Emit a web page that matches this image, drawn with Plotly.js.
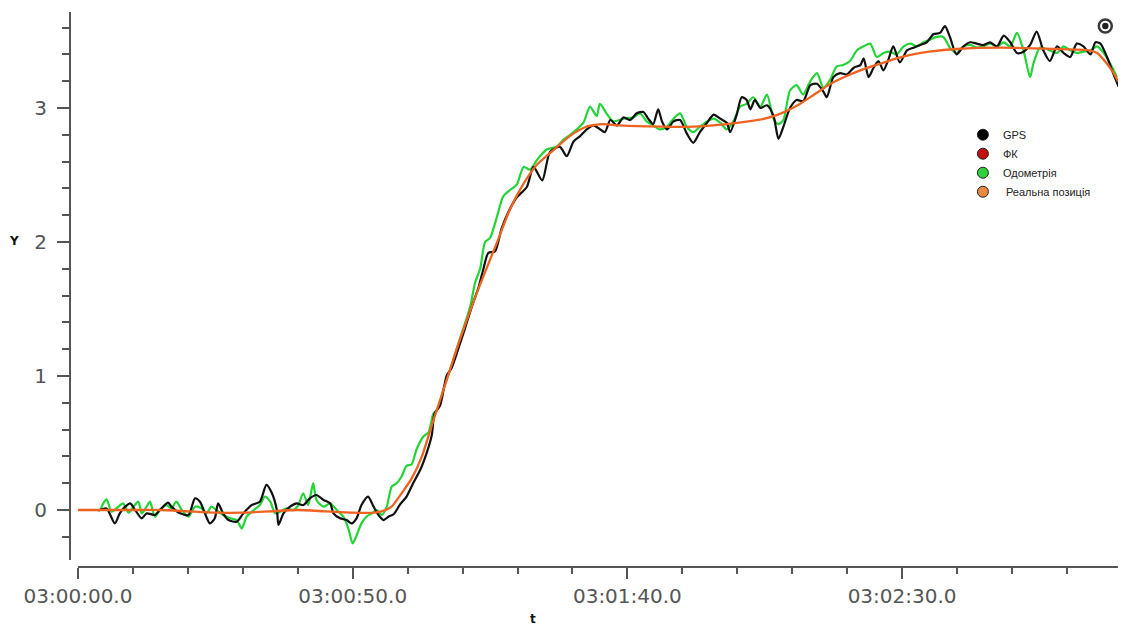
<!DOCTYPE html>
<html>
<head>
<meta charset="utf-8">
<script src="https://cdn.plot.ly/plotly-3.0.1.min.js"></script>
<style>html,body{margin:0;padding:0;background:#fff;}#chart{width:1121px;height:627px;}</style>
</head>
<body>
<div id="chart"></div>
<script>
// seconds after 03:00:00.0
const gpsT = [0,3.5,4.0,5.2,6.7,7.6,8.6,9.5,10.4,11.6,12.5,14.0,14.9,16.4,17.0,18.6,20.1,21.3,22.2,23.1,24.0,24.9,25.5,26.4,27.4,28.9,30.1,31.6,33.1,34.3,35.3,36.2,36.5,37.4,38.6,39.8,41.0,42.2,43.4,44.7,45.9,46.5,47.7,48.9,49.8,50.7,51.6,52.8,53.8,54.7,55.6,56.5,
  57.5,58.6,59.8,61.0,62.3,63.5,64.4,64.9,65.9,67.1,68.0,69.2,70.4,71.7,72.9,73.8,74.7,75.9,77.1,78.3,79.8,81.7,82.9,84.5,85.9,87.7,88.96,90.2,91.4,92.6,93.8,94.7,95.9,96.9,98.1,99.3,100.5,101.7,102.9,103.8,104.7,105.6,106.3,107.2,108.4,109.6,110.8,112.0,113.2,114.5,115.7,116.9,118.1,118.7,119.9,120.8,121.7,122.4,123.2,124.2,125.4,126.6,127.5,128.4,129.6,130.8,132.0,133.3,134.5,135.7,136.3,137.5,138.7,139.9,141.2,142.4,
  143.0,143.9,144.8,145.7,146.6,147.5,148.4,149.6,150.9,152.1,153.3,154.5,155.7,156.9,157.8,158.7,159.9,161.2,162.4,163.6,164.8,166.0,167.3,168.5,169.7,170.9,172.1,173.3,174.5,175.7,176.9,178.2,179.4,180.6,181.8,183.0,184.3,185.2,186.1,187.3,188.5,189.4];
const gpsY = [0,0,0,0.012,-0.10,-0.025,0.025,0.05,0,-0.062,-0.025,-0.037,0,0.055,0.025,-0.025,-0.037,0.087,0.062,-0.025,-0.10,-0.062,0.05,-0.025,-0.075,-0.087,-0.025,0.037,0.062,0.187,0.125,0,-0.112,-0.025,0.025,0.05,0.037,0.087,0.112,0.075,0.05,-0.025,-0.062,-0.075,-0.10,-0.062,0.037,0.10,0.025,-0.037,-0.075,-0.05,
  -0.03,0.04,0.10,0.20,0.30,0.43,0.56,0.72,0.78,1.00,1.06,1.20,1.35,1.52,1.66,1.80,1.92,1.93,2.10,2.22,2.33,2.41,2.56,2.46,2.67,2.71,2.64,2.75,2.79,2.84,2.87,2.85,2.82,2.91,2.87,2.93,2.91,2.96,2.97,2.92,2.88,2.99,2.90,2.84,2.90,2.91,2.81,2.74,2.82,2.89,2.95,2.92,2.89,2.82,2.95,3.08,3.06,2.99,3.06,3.00,3.02,2.94,2.77,2.86,3.00,3.06,3.05,3.17,3.18,3.12,3.08,3.23,3.26,3.25,3.30,3.32,
  3.37,3.23,3.30,3.35,3.28,3.36,3.46,3.34,3.43,3.45,3.47,3.49,3.55,3.56,3.61,3.53,3.40,3.46,3.49,3.48,3.47,3.49,3.46,3.54,3.49,3.41,3.42,3.47,3.57,3.43,3.35,3.46,3.41,3.38,3.48,3.46,3.40,3.49,3.48,3.38,3.25,3.16];

const odoT = [0,3.5,4.0,4.6,5.2,6.1,7.0,8.2,9.2,10.1,11.0,11.6,12.5,13.1,14.0,14.9,16.1,17.0,17.9,18.9,20.1,21.3,22.5,23.4,24.3,25.2,26.4,27.7,28.9,29.8,30.7,32.0,33.1,34.0,35.0,35.9,36.8,38.0,39.2,40.1,41.0,41.9,42.8,43.4,44.7,45.9,47.1,48.3,49.2,50.0,50.7,51.6,52.5,53.5,54.4,55.3,56.2,57.1,58.0,58.9,
  59.8,60.7,61.6,62.9,63.8,64.7,65.6,66.5,67.7,68.9,70.1,71.4,72.3,73.2,74.1,75.0,76.2,77.4,78.7,79.9,81.1,82.3,83.5,85.3,87.1,88.3,89.6,90.8,92.0,93.2,94.4,95.0,96.2,97.4,99.3,101.1,102.3,103.5,104.7,105.9,107.2,108.4,109.6,110.8,112.0,113.2,114.5,115.7,116.9,118.1,119.3,120.5,121.7,122.9,124.2,125.4,126.6,127.5,128.4,129.6,130.8,132.0,133.3,134.5,135.7,136.9,138.1,139.3,140.5,
  141.8,143.0,144.2,145.4,146.6,147.8,149.0,150.3,151.5,152.7,153.9,155.1,156.3,157.5,158.7,159.9,161.2,162.4,163.6,164.8,166.0,167.3,168.5,169.7,170.9,172.1,173.3,173.9,175.1,176.9,178.2,179.4,180.6,181.8,183.0,184.3,185.5,186.7,187.9,189.1];
const odoY = [0,0,0,0.05,0.08,-0.012,0.012,0.05,-0.02,0.025,0.062,-0.025,0.025,0.062,-0.05,0,0.037,0.012,0.062,0,-0.05,0.025,0.012,-0.025,0.025,0,-0.037,-0.062,-0.075,-0.137,-0.05,0,0.037,0.10,0.062,-0.025,-0.012,0.012,0,0.037,0.125,0.037,0.20,0.075,0.025,0.05,0,-0.05,-0.137,-0.25,-0.19,-0.10,-0.05,-0.025,0,-0.037,0.025,0.174,0.20,0.25,
  0.33,0.34,0.45,0.55,0.58,0.72,0.76,0.90,1.04,1.20,1.35,1.52,1.70,1.80,2.00,2.03,2.18,2.34,2.39,2.43,2.56,2.54,2.61,2.69,2.71,2.76,2.80,2.84,2.89,3.01,2.94,3.03,2.96,2.90,2.92,2.93,2.96,2.90,2.87,2.84,2.86,2.92,2.96,2.86,2.82,2.86,2.90,2.92,2.89,2.84,2.90,3.01,3.03,3.08,3.01,3.10,2.92,2.88,2.91,3.13,3.17,3.10,3.20,3.26,3.15,3.21,3.31,3.32,3.35,
  3.43,3.46,3.48,3.38,3.41,3.42,3.40,3.46,3.48,3.46,3.49,3.51,3.53,3.53,3.45,3.41,3.46,3.47,3.45,3.46,3.48,3.46,3.49,3.46,3.56,3.43,3.23,3.33,3.45,3.43,3.41,3.46,3.43,3.41,3.42,3.43,3.46,3.41,3.33,3.23];

const realT = [0,4,10,15,20,25,30,35,40,45,50,54,56,57.2,59,60.8,62.6,64.7,67.1,69.5,72.6,76.2,78.6,80.6,83.4,86.4,89.5,92.5,95.5,98.5,106,112,118,122,125,128,131,134,137,140,143,146,149,152,155,160,168,178,184,185.5,187.3,188.5,189.3];
const realY = [0,0,0,0,-0.01,-0.02,-0.02,-0.01,0,-0.01,-0.02,-0.02,0,0.03,0.13,0.24,0.40,0.67,0.97,1.27,1.62,1.99,2.24,2.40,2.57,2.68,2.79,2.86,2.88,2.87,2.86,2.86,2.88,2.9,2.92,2.96,3.02,3.10,3.18,3.24,3.29,3.33,3.37,3.40,3.42,3.44,3.45,3.44,3.43,3.41,3.33,3.26,3.2];

const seriesNames = ['GPS','ФК','Одометрія','\u00a0Реальна позиція'];
const legendColors = ['#000000','#c40f0f','#2fd13c','#ea8a3d'];
const xTickVals = [0,50,100,150];
const xTickText = ['03:00:00.0','03:00:50.0','03:01:40.0','03:02:30.0'];
const yTickVals = [0,1,2,3];

const axisColor = '#555555';
const traces = [
  {x: odoT, y: odoY, mode:'lines', line:{color:'#22d436', width:2.2, shape:'spline', smoothing:0.7}, showlegend:false, hoverinfo:'skip'},
  {x: gpsT, y: gpsY, mode:'lines', line:{color:'#111111', width:2.2, shape:'spline', smoothing:0.7}, showlegend:false, hoverinfo:'skip'},
  {x: realT, y: realY, mode:'lines', line:{color:'#f0621f', width:2.3, shape:'spline', smoothing:0.6}, showlegend:false, hoverinfo:'skip'}
];
seriesNames.forEach((n,i)=>{
  traces.push({x:[null], y:[null], name:n, mode:'markers', marker:{color:legendColors[i], size:11, line:{color:'#222', width:1}}, showlegend:true});
});

const px = v => (v-70)/1048;
const py = v => (567-v)/555;

const layout = {
  width:1121, height:627,
  margin:{l:70, r:3, t:12, b:60},
  paper_bgcolor:'#fff', plot_bgcolor:'#fff',
  showlegend:true,
  legend:{x:0.852, y:0.805, xanchor:'left', yanchor:'top', bgcolor:'rgba(0,0,0,0)', borderwidth:0,
    font:{family:'Liberation Sans, Arial, sans-serif', size:11, color:'#222'}, itemclick:false},
  xaxis:{domain:[8/1048,1], range:[0,189.3], anchor:'free', position:0,
    showline:true, linecolor:axisColor, linewidth:2, showgrid:false, zeroline:false,
    ticks:'outside', ticklen:11, tickwidth:2, tickcolor:axisColor,
    tickmode:'array', tickvals:xTickVals, ticktext:xTickText, ticklabelstandoff:0,
    tickfont:{family:'DejaVu Sans', size:20, color:axisColor},
    minor:{tickmode:'linear', tick0:0, dtick:10, ticks:'outside', ticklen:6, tickwidth:2, tickcolor:axisColor, showgrid:false}},
  yaxis:{domain:[7/555,1], range:[-0.373,3.716], anchor:'free', position:0,
    showline:true, linecolor:axisColor, linewidth:2, showgrid:false, zeroline:false,
    ticks:'outside', ticklen:12, tickwidth:2, tickcolor:axisColor,
    tickmode:'array', tickvals:yTickVals, ticklabelstandoff:6,
    tickfont:{family:'DejaVu Sans', size:20, color:axisColor},
    minor:{tickmode:'linear', tick0:0, dtick:0.2, ticks:'outside', ticklen:7, tickwidth:2, tickcolor:axisColor, showgrid:false}},
  shapes:[
    {type:'circle', xref:'paper', yref:'paper', x0:px(1105.3-6.5), x1:px(1105.3+6.5), y0:py(26+6.5), y1:py(26-6.5), line:{color:'#3a3a3a', width:2.5}, fillcolor:'rgba(0,0,0,0)'},
    {type:'circle', xref:'paper', yref:'paper', x0:px(1105.3-3.2), x1:px(1105.3+3.2), y0:py(26+3.2), y1:py(26-3.2), line:{color:'#222', width:0}, fillcolor:'#222'}
  ],
  annotations:[
    {text:'<b>Y</b>', xref:'paper', yref:'paper', x:px(14), y:py(241), xanchor:'center', yanchor:'middle', showarrow:false, font:{family:'DejaVu Sans', size:12, color:'#111'}},
    {text:'<b>t</b>', xref:'paper', yref:'paper', x:px(533), y:py(619), xanchor:'center', yanchor:'middle', showarrow:false, font:{family:'DejaVu Sans', size:12, color:'#111'}}
  ]
};

Plotly.newPlot('chart', traces, layout, {displayModeBar:false, staticPlot:true});
</script>
</body>
</html>
